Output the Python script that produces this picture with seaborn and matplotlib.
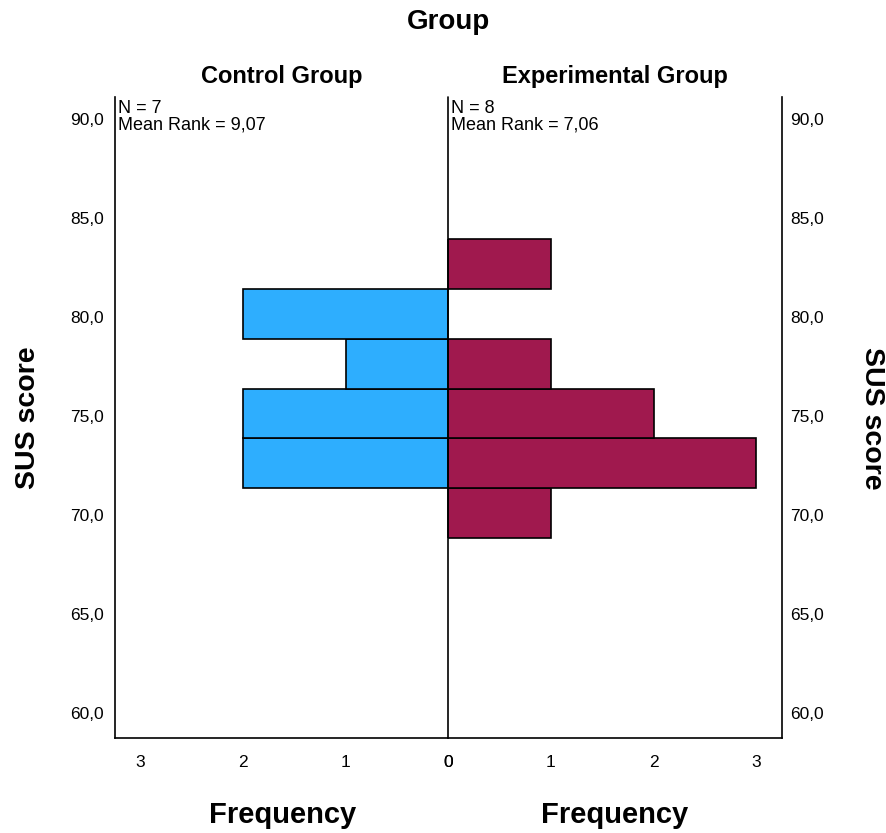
import numpy as np
import pandas as pd
import matplotlib.pyplot as plt
import seaborn as sns

# histogram bins (SUS score) and counts
bin_edges = [68.85, 71.37, 73.89, 76.38, 78.88, 81.39, 83.95]
bin_mid = [70.11, 72.63, 75.14, 77.63, 80.14, 82.67]
control_counts = [0, 2, 2, 1, 2, 0]
experimental_counts = [1, 3, 2, 1, 0, 1]

y_ticks = [60, 65, 70, 75, 80, 85, 90]
y_labels = ["60,0", "65,0", "70,0", "75,0", "80,0", "85,0", "90,0"]
x_ticks = [0, 1, 2, 3]

df = pd.DataFrame({
    "score": bin_mid * 2,
    "count": control_counts + experimental_counts,
    "group": ["Control Group"] * 6 + ["Experimental Group"] * 6,
})

sns.set_style("white")
plt.rcParams['font.family'] = ['Liberation Sans', 'DejaVu Sans']
plt.rcParams['text.color'] = 'black'

fig = plt.figure(figsize=(8.86, 8.33), dpi=100)
ax1 = fig.add_axes([115/886, 1 - 738/833, 333/886, 641/833])
ax2 = fig.add_axes([448/886, 1 - 738/833, 334/886, 641/833])

ctrl = df[df["group"] == "Control Group"]
expt = df[df["group"] == "Experimental Group"]

sns.histplot(data=ctrl, y="score", weights="count", bins=bin_edges,
             color="#2eaefe", alpha=1, edgecolor="black", linewidth=1.2, ax=ax1)
sns.histplot(data=expt, y="score", weights="count", bins=bin_edges,
             color="#a0194e", alpha=1, edgecolor="black", linewidth=1.2, ax=ax2)

for ax in (ax1, ax2):
    ax.set_ylim(58.75, 91.1)
    ax.set_yticks(y_ticks)
    ax.set_xticks(x_ticks)
    ax.set_xlabel("")
    ax.set_ylabel("")
    ax.spines["top"].set_visible(False)
    for s in ("left", "right", "bottom"):
        ax.spines[s].set_color("black")
        ax.spines[s].set_linewidth(1.2)
    ax.tick_params(length=0, labelsize=12.5, colors="black")
    ax.tick_params(axis="x", pad=12)
    ax.grid(False)

ax1.set_xlim(3.25, 0)
ax1.set_yticklabels(y_labels)
ax1.spines["right"].set_visible(False)
ax1.tick_params(axis="y", pad=8)

ax2.set_xlim(0, 3.25)
ax2.yaxis.tick_right()
ax2.set_yticklabels(y_labels)
ax2.spines["left"].set_visible(False)
ax2.tick_params(axis="y", pad=6)
ax2.axvline(0, color="black", linewidth=1.2, zorder=5, clip_on=False)

ax1.text(0.01, 0.995, "N = 7\nMean Rank = 9,07", transform=ax1.transAxes,
         ha="left", va="top", fontsize=13, linespacing=0.95)
ax2.text(0.01, 0.995, "N = 8\nMean Rank = 7,06", transform=ax2.transAxes,
         ha="left", va="top", fontsize=13, linespacing=0.95)

fig.text(448/886, 1 - 22/833, "Group", ha="center", va="center",
         fontsize=20, fontweight="bold")
fig.text(282/886, 1 - 76/833, "Control Group", ha="center", va="center",
         fontsize=17, fontweight="bold")
fig.text(615/886, 1 - 76/833, "Experimental Group", ha="center", va="center",
         fontsize=17, fontweight="bold")
fig.text(28/886, 1 - 418/833, "SUS score", ha="center", va="center",
         rotation=90, fontsize=20.5, fontweight="bold")
fig.text(872/886, 1 - 418/833, "SUS score", ha="center", va="center",
         rotation=270, fontsize=20.5, fontweight="bold")
fig.text(283/886, 1 - 815/833, "Frequency", ha="center", va="center",
         fontsize=21, fontweight="bold")
fig.text(615/886, 1 - 815/833, "Frequency", ha="center", va="center",
         fontsize=21, fontweight="bold")

fig.savefig("out.png", dpi=100)
